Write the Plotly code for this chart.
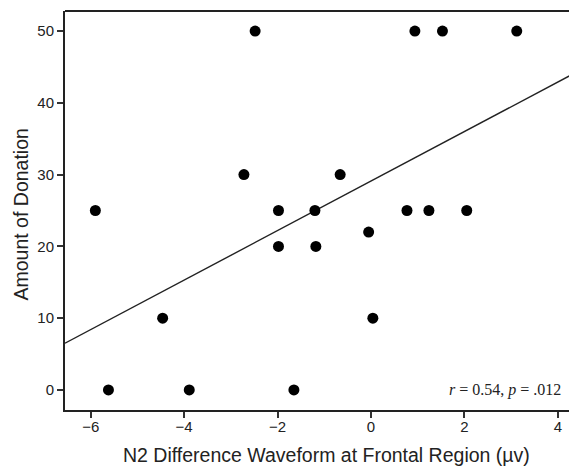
import numpy as np
import plotly.graph_objects as go

# Data
n2_diff = [-5.90, -5.62, -4.46, -3.89, -2.72, -2.48, -1.98, -1.98, -1.65, -1.20,
           -1.18, -0.66, -0.05, 0.04, 0.77, 0.94, 1.24, 1.53, 2.05, 3.12]
donation = [25, 0, 10, 0, 30, 50, 25, 20, 0, 25,
            20, 30, 22, 10, 25, 50, 25, 50, 25, 50]
x_ticks = [-6, -4, -2, 0, 2, 4]
y_ticks = [0, 10, 20, 30, 40, 50]

x_range = [-6.55, 4.41]
y_range = [-2.8, 52.8]

# Regression line as drawn in the reference (intercept, slope)
fit_intercept = 29.1
fit_slope = 3.45
line_x = np.array(x_range)
line_y = fit_intercept + fit_slope * line_x

fig = go.Figure()
fig.add_trace(go.Scatter(x=line_x, y=line_y, mode="lines",
                         line=dict(color="#222222", width=1.4),
                         showlegend=False, hoverinfo="skip"))
fig.add_trace(go.Scatter(x=n2_diff, y=donation, mode="markers",
                         marker=dict(color="black", size=11),
                         showlegend=False))

sans = "Liberation Sans, Arial, sans-serif"
fig.add_annotation(x=1, y=0, xref="paper", yref="y", xanchor="right", yanchor="middle",
                   xshift=-14, text="<i>r</i> = 0.54, <i>p</i> = .012", showarrow=False,
                   font=dict(family="Liberation Serif, Times New Roman, serif", size=16, color="#222"))
# axis titles
fig.add_annotation(x=0.5, y=0, xref="paper", yref="paper", xanchor="center", yanchor="middle",
                   yshift=-45, xshift=5, text="N2 Difference Waveform at Frontal Region (µv)",
                   showarrow=False, font=dict(family=sans, size=19.5, color="#222"))
fig.add_annotation(x=0, y=0.5, xref="paper", yref="paper", xanchor="center", yanchor="middle",
                   xshift=-45, yshift=-4, textangle=-90, text="Amount of Donation",
                   showarrow=False, font=dict(family=sans, size=19.5, color="#222"))

axis_font = dict(family=sans, size=15, color="#222")
# page body adds an 8px margin, so the figure is sized/offset to compensate
fig.update_layout(
    width=569, height=459,
    margin=dict(l=57, r=0, t=3, b=57, autoexpand=False),
    plot_bgcolor="white", paper_bgcolor="white",
    font=dict(family=sans, color="#222"),
    xaxis=dict(range=x_range, tickvals=x_ticks, ticks="outside", ticklen=6, automargin=False,
               ticklabelstandoff=-4,
               tickwidth=1.5, tickcolor="#333", showline=True, linecolor="#222", linewidth=2,
               mirror=False, showgrid=False, zeroline=False, tickfont=axis_font),
    yaxis=dict(range=y_range, tickvals=y_ticks, ticks="outside", ticklen=6, automargin=False,
               tickwidth=1.5, tickcolor="#333", showline=True, linecolor="#222", linewidth=2,
               showgrid=False, zeroline=False, tickfont=axis_font),
)
# top border of the frame
fig.add_shape(type="line", xref="paper", yref="paper", x0=0, x1=1, y0=1, y1=1,
              line=dict(color="#222", width=2))

fig.write_html("out.html")
